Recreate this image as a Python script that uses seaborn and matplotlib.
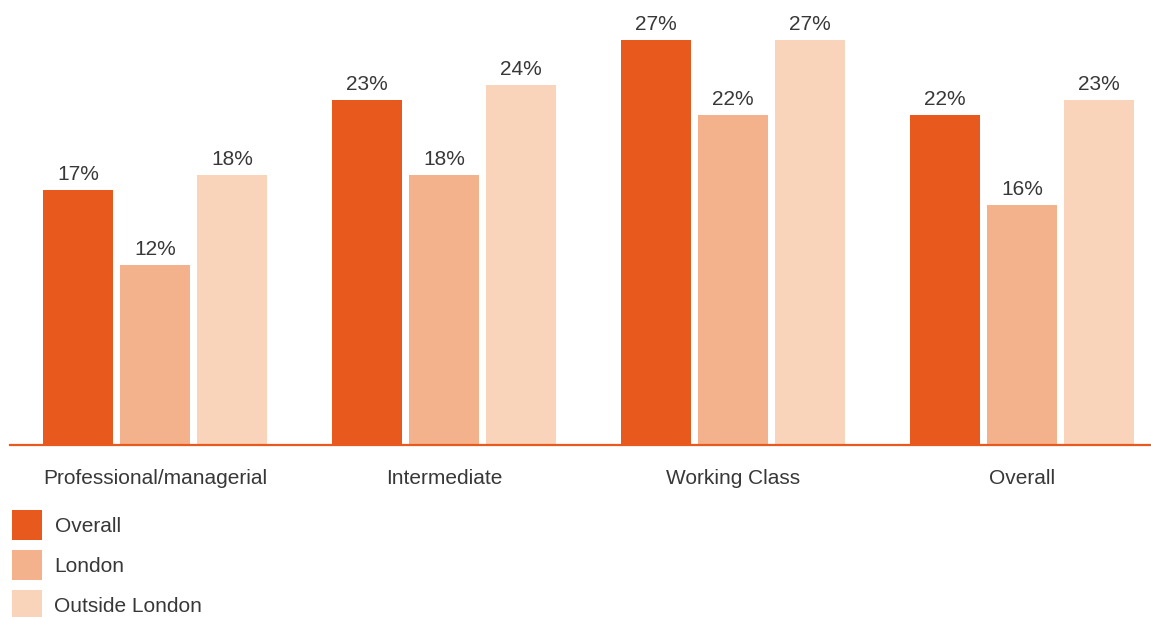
import seaborn as sns
import matplotlib.pyplot as plt
import pandas as pd

# Datos
categorias = ['Professional/managerial', 'Intermediate', 'Working Class', 'Overall']
series = ['Overall', 'London', 'Outside London']
overall = [17, 23, 27, 22]
london = [12, 18, 22, 16]
outside_london = [18, 24, 27, 23]
colores = ['#E8591E', '#F3B28B', '#F9D3BA']

df = pd.DataFrame({
    'Categoria': categorias * 3,
    'Serie': [s for s in series for _ in categorias],
    'Valor': overall + london + outside_london,
})

sns.set_style('white')
plt.rcParams['font.family'] = ['Liberation Sans', 'DejaVu Sans']

W, H = 1151, 617
fig = plt.figure(figsize=(W / 100, H / 100), dpi=100)
ax = fig.add_axes([10 / W, 1 - 445 / H, 1141 / W, 445 / H])

sns.barplot(data=df, x='Categoria', y='Valor', hue='Serie',
            palette=colores, width=0.7993, gap=0.091,
            saturation=1, ax=ax, linewidth=0)

ax.set_xlim(-0.502, 3.446)
ax.set_ylim(0, 445 / 15)

# Etiquetas de valor
for cont in ax.containers:
    ax.bar_label(cont, labels=[f'{v:.0f}%' for v in cont.datavalues],
                 padding=4, fontsize=15, color='#383838')

# Ejes
for lado in ['top', 'right', 'left']:
    ax.spines[lado].set_visible(False)
ax.spines['bottom'].set_color(colores[0])
ax.spines['bottom'].set_linewidth(1.6)
ax.set_yticks([])
ax.set_xlabel('')
ax.set_ylabel('')
ax.tick_params(axis='x', length=0, pad=17, labelsize=15, labelcolor='#383838')

# Leyenda
handles, labels = ax.get_legend_handles_labels()
ax.get_legend().remove()
fig.legend(handles, labels, loc='upper left',
           bbox_to_anchor=(12 / W, 1 - 510 / H),
           frameon=False, fontsize=15, borderpad=0, borderaxespad=0,
           handlelength=1.44, handleheight=1.84, handletextpad=0.6,
           labelspacing=0.48, labelcolor='#383838')

plt.savefig('out.png', dpi=100)
plt.close()
